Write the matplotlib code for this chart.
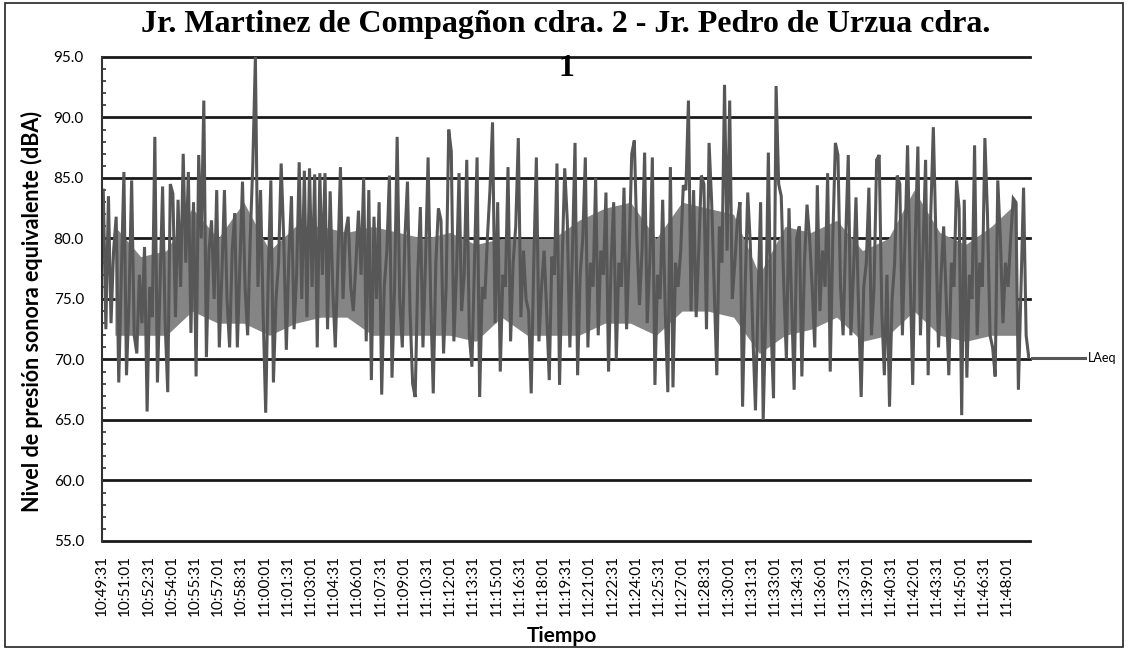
import numpy as np
import pandas as pd
from matplotlib import pyplot as plt
from matplotlib.patches import Rectangle

# LAeq (dBA), one reading per 10 s, from 10:49:31 to 11:49:30
laeq = [
    84.0, 72.5, 83.5, 73.0, 79.0, 81.8, 68.1, 77.0, 85.5, 68.7,
    75.0, 84.8, 72.0, 70.5, 77.0, 73.0, 79.3, 65.7, 76.0, 73.5,
    88.4, 68.1, 76.0, 84.3, 73.0, 67.3, 84.5, 83.7, 73.5, 83.2,
    76.0, 87.0, 78.0, 85.5, 72.2, 83.0, 68.6, 86.9, 80.0, 91.4,
    70.2, 79.0, 81.5, 75.0, 84.0, 71.0, 77.0, 84.0, 75.0, 71.0,
    79.0, 82.1, 71.0, 78.0, 84.7, 76.0, 72.0, 80.0, 86.1, 95.0,
    76.0, 84.0, 74.0, 65.6, 77.0, 84.8, 68.1, 75.0, 78.0, 86.2,
    80.0, 70.8, 78.5, 83.5, 72.5, 77.0, 86.3, 75.0, 85.6, 73.5,
    85.8, 76.0, 85.3, 71.0, 85.4, 77.0, 85.4, 72.5, 83.9, 76.0,
    71.0, 78.0, 85.9, 75.0, 80.5, 81.8, 76.0, 74.0, 78.0, 82.3,
    77.0, 85.0, 71.5, 84.0, 68.3, 81.8, 75.0, 83.0, 67.1, 76.0,
    79.0, 85.2, 68.5, 76.0, 88.4, 75.0, 71.0, 80.0, 84.7, 74.0,
    68.0, 66.9, 77.0, 82.6, 71.0, 78.0, 86.7, 75.0, 67.2, 78.0,
    82.5, 81.5, 70.5, 76.0, 89.0, 87.2, 71.5, 77.0, 85.4, 74.0,
    77.0, 86.5, 72.0, 69.4, 78.0, 86.7, 66.9, 76.0, 75.0, 80.0,
    84.0, 89.6, 73.0, 83.0, 69.0, 77.0, 76.0, 85.9, 71.5, 78.0,
    81.0, 88.3, 73.5, 79.0, 75.0, 74.0, 67.2, 78.0, 86.7, 71.5,
    76.0, 79.0, 74.0, 68.3, 78.5, 77.0, 86.2, 67.9, 78.0, 85.8,
    81.5, 71.0, 79.0, 87.9, 68.7, 77.0, 80.0, 86.7, 71.0, 78.0,
    76.0, 85.0, 72.0, 79.0, 77.0, 83.8, 69.0, 78.0, 83.0, 70.0,
    78.0, 76.0, 84.2, 72.5, 79.0, 87.0, 88.1, 80.0, 74.5, 79.0,
    87.1, 73.0, 78.0, 86.7, 67.9, 77.0, 75.0, 83.2, 74.0, 67.3,
    85.9, 67.7, 78.0, 76.0, 79.0, 84.4, 84.0, 91.4, 74.0, 84.0,
    73.5, 79.0, 85.2, 84.5, 72.5, 87.9, 83.0, 76.0, 68.7, 81.0,
    78.0, 92.7, 79.0, 91.4, 75.0, 78.0, 81.5, 83.0, 66.1, 76.0,
    83.8, 79.5, 72.0, 65.8, 75.0, 83.0, 65.0, 74.0, 87.1, 73.0,
    66.8, 92.6, 84.5, 83.5, 76.0, 70.0, 82.5, 75.0, 67.5, 80.0,
    81.0, 68.6, 78.0, 82.8, 80.0, 76.0, 71.0, 84.4, 74.0, 79.0,
    76.0, 85.4, 69.0, 80.0, 87.9, 86.9, 76.0, 72.0, 80.0, 86.9,
    72.0, 77.0, 83.4, 74.0, 66.9, 76.0, 78.0, 84.2, 72.0, 76.0,
    86.5, 86.9, 74.0, 68.7, 77.0, 66.1, 75.0, 78.0, 85.2, 84.5,
    72.0, 80.0, 87.7, 77.0, 67.9, 80.0, 87.6, 72.0, 79.0, 86.5,
    68.7, 82.0, 89.2, 80.0, 71.0, 77.0, 81.0, 75.0, 68.7, 78.0,
    76.0, 84.8, 82.5, 65.4, 83.2, 68.5, 77.0, 75.0, 87.7, 72.0,
    78.0, 76.0, 88.3, 82.0, 72.0, 71.0, 68.6, 84.8, 80.0, 73.0,
    78.0, 76.0, 80.0, 83.3, 83.0, 67.5, 76.0, 84.2, 72.0, 70.2,
]
# dense second-by-second band (bottom/top, dBA), one pair per 100 s
band_low = [72.0, 72.0, 72.0, 74.0, 73.0, 73.0, 72.0, 73.0, 73.5, 73.5,
            72.0, 72.0, 72.0, 72.0, 71.5, 73.5, 72.0, 72.0, 72.0, 73.0,
            73.0, 72.0, 74.0, 74.0, 73.5, 70.5, 72.0, 72.5, 73.5, 71.5,
            72.0, 74.0, 72.0, 71.5, 72.0, 72.0]
band_high = [81.0, 78.5, 79.0, 82.5, 80.0, 83.0, 79.0, 81.0, 81.0, 80.5,
             81.0, 80.5, 80.0, 80.5, 79.5, 80.0, 80.0, 80.0, 81.5, 82.5,
             83.0, 80.0, 83.0, 82.5, 82.0, 77.0, 81.0, 80.5, 81.5, 79.0,
             80.0, 84.0, 80.5, 79.5, 81.0, 83.0]
step_s = 10
band_step_s = 100
total_s = 3600
tick_every_s = 90
start = "10:49:31"
title = "Jr. Martinez de Compagñon cdra. 2 - Jr. Pedro de Urzua cdra.\n1"

seconds = np.arange(len(laeq)) * step_s + step_s / 2
band_t = np.arange(len(band_low)) * band_step_s + band_step_s / 2
tick_pos = np.arange(0, total_s - 60, tick_every_s)
tick_labels = pd.date_range(start, periods=len(tick_pos),
                            freq=f"{tick_every_s}s").strftime("%H:%M:%S")

W, H = 1128, 650
fig = plt.figure(figsize=(W / 100, H / 100), dpi=100)
ax = fig.add_axes([102 / W, 1 - 541 / H, (1030 - 102) / W, (541 - 57) / H])

ax.fill_between(band_t, band_low, band_high, color="#858585", lw=0)
line, = ax.plot(seconds, laeq, color="#575757", lw=2.2, label="LAeq",
                solid_joinstyle="miter")

ax.set_xlim(0, total_s)
ax.set_ylim(55, 95)
ax.set_yticks(np.arange(55, 95.1, 5))
ax.set_yticks(np.arange(55, 95.1, 1), minor=True)
ax.set_yticklabels([f"{v:.1f}" for v in np.arange(55, 95.1, 5)],
                   fontfamily="Lato", fontsize=11)
ax.set_xticks(tick_pos)
ax.set_xticklabels(tick_labels, rotation=90, fontfamily="Lato", fontsize=11)
ax.tick_params(axis="x", length=0, pad=10)
ax.tick_params(axis="y", which="major", length=0, pad=13)
ax.tick_params(axis="y", which="minor", direction="in", length=3,
               width=1.2, color="#333333")

# gridlines sit behind the data, as in the source spreadsheet chart
ax.grid(axis="y", color="#1a1a1a", lw=2.0)
ax.set_axisbelow(True)
for s in ["top", "right", "bottom"]:
    ax.spines[s].set_visible(False)
ax.spines["left"].set_color("#333333")
ax.spines["left"].set_linewidth(1.5)
for gl in ax.get_ygridlines():
    gl.set_clip_on(False)

fig.text(566 / W, 1 - 10 / H, title, ha="center", va="top",
         fontfamily="Liberation Serif", fontweight="bold", fontsize=23,
         linespacing=1.7)
fig.text(32 / W, 1 - 312 / H, "Nivel de presión sonora equivalente (dBA)",
         rotation=90, ha="center", va="center", fontfamily="Lato",
         fontweight="bold", fontsize=15.5)
fig.text(562 / W, 1 - 636 / H, "Tiempo", ha="center", va="center",
         fontfamily="Lato", fontweight="bold", fontsize=15)

fig.legend(handles=[line], loc="center left",
           bbox_to_anchor=(1032 / W, 1 - 358 / H), frameon=False,
           prop={"family": "Lato", "size": 9}, handlelength=4.2,
           handletextpad=0.3, borderpad=0, borderaxespad=0)

fig.patches.append(Rectangle((5 / W, 3 / H), (W - 10) / W, (H - 6) / H,
                             transform=fig.transFigure, fill=False,
                             ec="#222222", lw=1.2))

fig.savefig("out.png", dpi=100)
